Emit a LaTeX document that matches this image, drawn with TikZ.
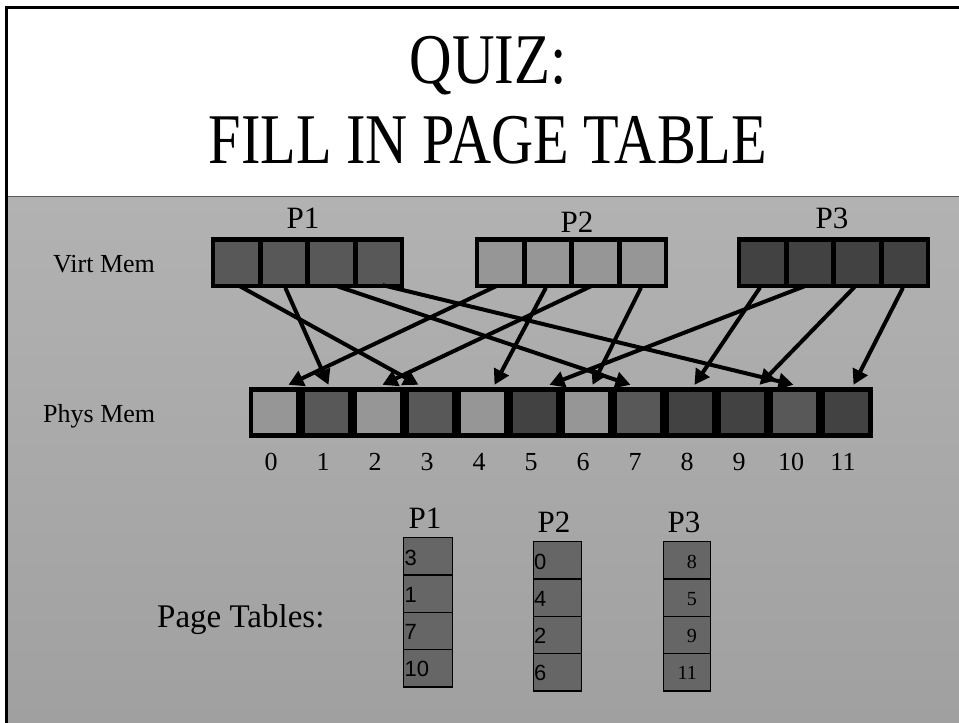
\documentclass[tikz,border=0pt]{standalone}
\usepackage{fontspec}
\usepackage{graphicx}
\setmainfont{Liberation Serif}
\newfontfamily\tabsans{Liberation Sans}
\usetikzlibrary{arrows.meta}
\definecolor{cmid}{RGB}{88,88,88}
\definecolor{clight}{RGB}{150,150,150}
\definecolor{cdark}{RGB}{66,66,66}
\definecolor{ctab}{RGB}{102,102,102}
\definecolor{bgtop}{RGB}{178,178,178}
\definecolor{bgbot}{RGB}{160,160,160}
\begin{document}
\begin{tikzpicture}[x=1pt,y=-1pt,
  lbl/.style={font=\fontsize{26}{26}\selectfont, inner sep=0, anchor=base west},
  plbl/.style={font=\fontsize{31}{31}\selectfont, inner sep=0, anchor=base},
  numlbl/.style={font=\fontsize{26}{26}\selectfont, inner sep=0, anchor=base},
  vframe/.style={fill=black, minimum width=193pt, minimum height=51pt, inner sep=0},
  pframe/.style={fill=black, minimum width=624pt, minimum height=51pt, inner sep=0},
  vcell/.style={minimum width=42.5pt, minimum height=42pt, inner sep=0},
  pcell/.style={minimum width=43pt, minimum height=41pt, inner sep=0},
  map/.style={line width=4pt, -{Triangle[length=15pt,width=16pt]}, shorten <=4pt},
  tcell/.style={draw=black, line width=1.3pt, fill=ctab, minimum height=37.3pt, inner sep=0, anchor=north west},
  tsans/.style={font=\tabsans\fontsize{22}{22}\selectfont, inner sep=0, anchor=base west},
  tserif/.style={font=\fontsize{20}{20}\selectfont, inner sep=0, anchor=base east},
  title/.style={font=\fontsize{62}{62}\selectfont, inner sep=0, anchor=base},
]
\useasboundingbox (0,0) rectangle (959,723);
% background
\fill[white] (0,0) rectangle (959,723);
\shade[top color=bgtop, bottom color=bgbot] (8,197) rectangle (959,723);
\fill[white] (8,9) rectangle (959,196);
\draw[gray!70!black, line width=1.2pt] (8,196.5) -- (959,196.5);
\draw[black, line width=3pt] (5,7.5) -- (959,7.5);
\draw[black, line width=3pt] (6.5,6) -- (6.5,723);

% title
\node[title] (t1) at (488,83) {\scalebox{0.95}[1.15]{QUIZ:}};
\node[title] (t2) at (488,163) {\scalebox{0.94}[1.15]{FILL IN PAGE TABLE}};

% virtual memory
\node[lbl] (virtlbl) at (53,272) {Virt Mem};
\node[vframe] (v1) at (307.5,262.5) {};
\node[vframe] (v2) at (571.5,262.5) {};
\node[vframe] (v3) at (833.5,262.5) {};
\foreach \k in {0,1,2,3} {
  \node[vcell, fill=cmid] (a\k) at ({236.25+47.5*\k},263) {};
  \node[vcell, fill=clight] (b\k) at ({500.25+47.5*\k},263) {};
  \node[vcell, fill=cdark] (c\k) at ({762.25+47.5*\k},263) {};
}
\node[plbl] (v1lbl) at (303,228) {P1};
\node[plbl] (v2lbl) at (577,232) {P2};
\node[plbl] (v3lbl) at (832,228) {P3};

% physical memory
\node[lbl] (physlbl) at (43,422) {Phys Mem};
\node[pframe] (ph) at (561,412.5) {};
\foreach \k/\c in {0/clight,1/cmid,2/clight,3/cmid,4/clight,5/cdark,6/clight,7/cmid,8/cdark,9/cdark,10/cmid,11/cdark} {
  \node[pcell, fill=\c] (p\k) at ({274.5+52*\k},412.5) {};
  \node[numlbl] (n\k) at ({271+52*\k},470) {\k};
}

% mappings
\draw[map] (a0.south) -- ([xshift=-12pt,yshift=7pt]p3.north);
\draw[map] (a1.south) -- ([xshift=2pt,yshift=7pt]p1.north);
\draw[map] (a2.south) -- ([xshift=-8pt,yshift=7pt]p7.north);
\draw[map] (a3.south) -- ([xshift=-1pt,yshift=7pt]p10.north);
\draw[map] (b0.south) -- ([xshift=14pt,yshift=7pt]p0.north);
\draw[map] (b1.south) -- ([xshift=12pt,yshift=7pt]p4.north);
\draw[map] (b2.south) -- ([xshift=4pt,yshift=7pt]p2.north);
\draw[map] (b3.south) -- ([xshift=6pt,yshift=7pt]p6.north);
\draw[map] (c0.south) -- ([xshift=4pt,yshift=7pt]p8.north);
\draw[map] (c1.south) -- ([xshift=15pt,yshift=7pt]p5.north);
\draw[map] (c2.south) -- ([xshift=17pt,yshift=7pt]p9.north);
\draw[map] (c3.south) -- ([xshift=7pt,yshift=7pt]p11.north);

% page tables
\node[lbl, font=\fontsize{33}{33}\selectfont] (ptlbl) at (157,627) {Page Tables:};
\node[plbl] (t1lbl) at (425,528) {P1};
\node[plbl] (t2lbl) at (554,532) {P2};
\node[plbl] (t3lbl) at (684,532) {P3};
\foreach \k/\u/\v/\w in {0/3/0/8,1/1/4/5,2/7/2/9,3/10/6/11} {
  \node[tcell, minimum width=49pt] (r\k) at (403,{537+37.3*\k}) {};
  \node[tsans] (rt\k) at (404.5,{565+37.3*\k}) {\u};
  \node[tcell, minimum width=48pt] (s\k) at (533,{541+37.3*\k}) {};
  \node[tsans] (st\k) at (534,{569+37.3*\k}) {\v};
  \node[tcell, minimum width=47pt] (q\k) at (663,{541+37.3*\k}) {};
  \node[tserif] (qt\k) at (697,{568+37.3*\k}) {\w};
}
\end{tikzpicture}
\end{document}
